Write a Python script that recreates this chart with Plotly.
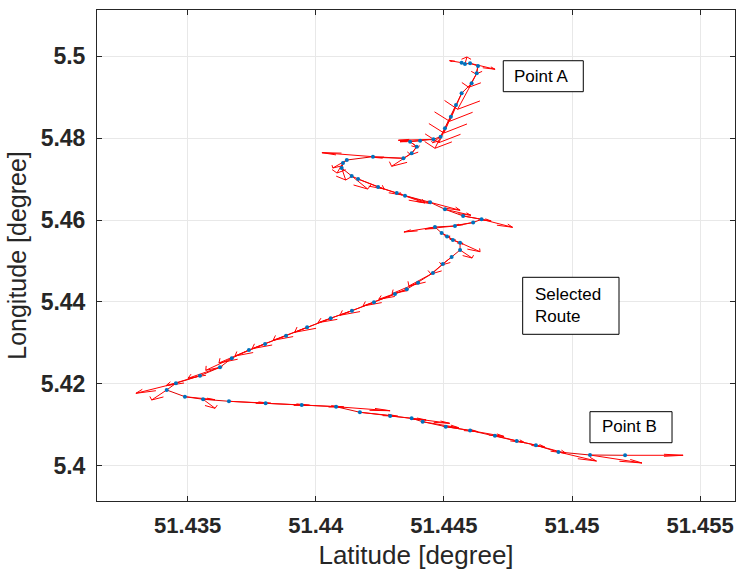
import plotly.graph_objects as go

# Route positions (degrees) and the vector attached to each fix (degrees)
lat = [51.44569, 51.44582, 51.44602, 51.44633, 51.44628, 51.44608, 51.44569, 51.44547,
       51.44527, 51.44504, 51.44487, 51.44459, 51.44407, 51.44368, 51.44394, 51.44374,
       51.44342, 51.44223, 51.44121, 51.44106, 51.44101, 51.44140, 51.44165, 51.44243,
       51.44316, 51.44348, 51.44446, 51.44504, 51.44575, 51.44647, 51.44614, 51.44543,
       51.44465, 51.44491, 51.44512, 51.44535, 51.44563, 51.44563, 51.44530, 51.44496,
       51.44457, 51.44399, 51.44355, 51.44309, 51.44227, 51.44141, 51.44058, 51.43966,
       51.43884, 51.43802, 51.43739, 51.43672, 51.43626, 51.43548, 51.43454, 51.43418,
       51.43489, 51.43560, 51.43661, 51.43804, 51.43945, 51.44079, 51.44172, 51.44290,
       51.44374, 51.44417, 51.44507, 51.44602, 51.44699, 51.44784, 51.44859, 51.44947,
       51.45070, 51.45207]
lon = [5.49837, 5.49805, 5.49822, 5.49756, 5.49578, 5.49334, 5.49090, 5.48805,
       5.48520, 5.48237, 5.48032, 5.47968, 5.47934, 5.47910, 5.47788, 5.47627,
       5.47505, 5.47544, 5.47463, 5.47390, 5.47268, 5.47073, 5.47000, 5.46805,
       5.46659, 5.46593, 5.46432, 5.46261, 5.46098, 5.46017, 5.45939, 5.45854,
       5.45829, 5.45683, 5.45598, 5.45512, 5.45446, 5.45268, 5.45098, 5.44927,
       5.44707, 5.44471, 5.44310, 5.44195, 5.43993, 5.43788, 5.43602, 5.43383,
       5.43178, 5.42976, 5.42829, 5.42627, 5.42407, 5.42202, 5.42017, 5.41854,
       5.41690, 5.41627, 5.41578, 5.41529, 5.41488, 5.41446, 5.41310, 5.41220,
       5.41163, 5.41080, 5.40959, 5.40866, 5.40739, 5.40610, 5.40505, 5.40341,
       5.40268, 5.40261]
dlat = [-0.000468, 0.000078, 0.000976, -0.000078, -0.000312, -0.000546, -0.000468, -0.000468,
        -0.000468, -0.000390, -0.000312, -0.001366, -0.000781, 0.000312, -0.000234, -0.000781,
        -0.001171, -0.001991, -0.000546, -0.000234, 0.000156, 0.000624, 0.001015, 0.000937,
        0.001093, 0.001015, 0.001171, 0.001015, 0.001093, 0.001210, -0.000703, -0.001171,
        -0.001210, 0.000312, 0.000312, 0.000390, 0.000781, 0.000468, -0.000390, -0.000468,
        -0.000937, -0.001015, -0.001093, -0.001249, -0.001327, -0.001327, -0.001405, -0.001327,
        -0.001327, -0.001171, -0.001171, -0.001015, -0.001249, -0.001327, -0.001561, -0.000585,
        0.001171, 0.000468, 0.001639, 0.001717, 0.001639, 0.002108, 0.001483, 0.001405,
        0.001483, 0.001405, 0.001249, 0.001327, 0.001171, 0.001093, 0.001171, 0.001483,
        0.002030, 0.002264]
dlon = [0.00049, 0.00171, -0.00146, -0.00195, -0.00341, -0.00634, -0.00683, -0.00683,
        -0.00634, -0.00488, -0.00146, -0.00024, -0.00024, -0.00146, -0.00195, -0.00317,
        0.00024, 0.00098, -0.00195, -0.00244, -0.00293, -0.00317, -0.00244, -0.00195,
        -0.00244, -0.00195, -0.00195, -0.00146, -0.00122, -0.00195, -0.00073, -0.00073,
        -0.00122, -0.00098, -0.00098, -0.00098, -0.00220, -0.00195, -0.00195, -0.00244,
        -0.00317, -0.00268, -0.00244, -0.00293, -0.00317, -0.00293, -0.00341, -0.00317,
        -0.00317, -0.00293, -0.00317, -0.00293, -0.00268, -0.00244, -0.00244, -0.00244,
        -0.00073, -0.00220, -0.00049, -0.00049, -0.00049, -0.00098, -0.00098, -0.00098,
        -0.00122, -0.00146, -0.00122, -0.00146, -0.00171, -0.00146, -0.00195, -0.00220,
        -0.00195, 0.0]

x_ticks = [51.435, 51.44, 51.445, 51.45, 51.455]
x_tick_text = ["51.435", "51.44", "51.445", "51.45", "51.455"]
y_ticks = [5.40, 5.42, 5.44, 5.46, 5.48, 5.50]
y_tick_text = ["5.4", "5.42", "5.44", "5.46", "5.48", "5.5"]

x_range = [51.43146, 51.45636]
y_range = [5.39146, 5.51122]

# Arrow-head proportions, applied in data units like a classic quiver
HEAD_LEN = 0.33
HEAD_WIDTH = 0.33

qx, qy = [], []
for x, y, u, v in zip(lat, lon, dlat, dlon):
    tx, ty = x + u, y + v
    qx += [x, tx, None]
    qy += [y, ty, None]
    qx += [tx - HEAD_LEN * (u + HEAD_WIDTH * v), tx, tx - HEAD_LEN * (u - HEAD_WIDTH * v), None]
    qy += [ty - HEAD_LEN * (v - HEAD_WIDTH * u), ty, ty - HEAD_LEN * (v + HEAD_WIDTH * u), None]

FONT = "Liberation Sans"

fig = go.Figure()
# Track line between fixes
fig.add_trace(go.Scatter(x=lat, y=lon, mode="lines",
                         line=dict(color="#e00000", width=1),
                         hoverinfo="skip", showlegend=False))
# Vector field
fig.add_trace(go.Scatter(x=qx, y=qy, mode="lines",
                         line=dict(color="#ff0000", width=1),
                         hoverinfo="skip", showlegend=False))
# Fixes
fig.add_trace(go.Scatter(x=lat, y=lon, mode="markers",
                         marker=dict(color="#0072bd", size=4),
                         showlegend=False))

axis_common = dict(
    showgrid=True, gridcolor="#e8e8e8", gridwidth=1,
    showline=True, linecolor="#262626", linewidth=1, mirror="ticks",
    ticks="inside", ticklen=5, tickcolor="#262626",
    zeroline=False,
)

fig.update_xaxes(range=x_range, tickvals=x_ticks, ticktext=x_tick_text,
                 tickfont=dict(family=FONT, size=22, color="#262626", weight="bold"),
                 title=dict(text="Latitude [degree]", standoff=8,
                            font=dict(family=FONT, size=26, color="#262626")),
                 ticklabelstandoff=5, **axis_common)
fig.update_yaxes(range=y_range, tickvals=y_ticks, ticktext=y_tick_text,
                 tickfont=dict(family=FONT, size=23, color="#262626", weight="bold"),
                 title=dict(text="Longitude [degree]", standoff=6,
                            font=dict(family=FONT, size=25, color="#262626")),
                 ticklabelstandoff=6, **axis_common)

# Text boxes
boxes = [
    (0.6368, 0.8336, 0.7622, 0.8967),
    (0.6672, 0.3395, 0.8182, 0.4556),
    (0.7727, 0.1187, 0.9013, 0.1819),
]
for x0, y0, x1, y1 in boxes:
    fig.add_shape(type="rect", xref="paper", yref="paper", x0=x0, y0=y0, x1=x1, y1=y1,
                  line=dict(color="#000000", width=1), fillcolor="white", layer="above")

label_font = dict(family=FONT, size=17, color="#000000")
fig.add_annotation(xref="paper", yref="paper", x=0.6960, y=0.8646, text="Point A",
                   showarrow=False, font=label_font, xanchor="center", yanchor="middle")
fig.add_annotation(xref="paper", yref="paper", x=0.6834, y=0.3976, text="Selected<br>Route",
                   showarrow=False, font=label_font, xanchor="left", yanchor="middle", align="left")
fig.add_annotation(xref="paper", yref="paper", x=0.8354, y=0.1508, text="Point B",
                   showarrow=False, font=label_font, xanchor="center", yanchor="middle")

fig.update_layout(
    width=736, height=572,
    margin=dict(l=97, r=1, t=10, b=71),
    plot_bgcolor="white", paper_bgcolor="white",
)

fig.write_html("out.html")
